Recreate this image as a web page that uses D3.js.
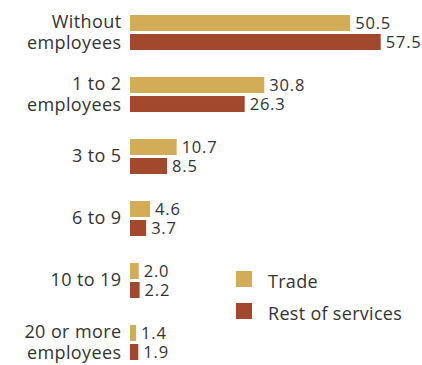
<!DOCTYPE html>
<html>
<head>
<meta charset="utf-8">
<script src="https://cdn.jsdelivr.net/npm/d3@7/dist/d3.min.js"></script>
<style>
  html, body { margin: 0; padding: 0; background: #fff; }
  svg { display: block; }
  text { font-family: "Open Sans", sans-serif; fill: #333; }
</style>
</head>
<body>
<svg id="chart" width="422" height="365"></svg>
<script>
// Firm size classes (label lines) and shares by sector
const categories = [
  ["Without", "employees"],
  ["1 to 2", "employees"],
  ["3 to 5"],
  ["6 to 9"],
  ["10 to 19"],
  ["20 or more", "employees"]
];
const seriesNames = ["Trade", "Rest of services"];
const trade = [50.5, 30.8, 10.7, 4.6, 2.0, 1.4];
const restOfServices = [57.5, 26.3, 8.5, 3.7, 2.2, 1.9];
const valueLabels = {
  "Trade": ["50.5", "30.8", "10.7", "4.6", "2.0", "1.4"],
  "Rest of services": ["57.5", "26.3", "8.5", "3.7", "2.2", "1.9"]
};

const colors = { "Trade": "#D3AC57", "Rest of services": "#A2492D" };
const svg = d3.select("#chart");

const keys = categories.map((c, i) => i);
const y0 = d3.scaleBand().domain(keys).range([15, 360]).paddingInner(0.435).paddingOuter(0);
const y1 = d3.scaleBand().domain(seriesNames).range([0, y0.bandwidth()]).paddingInner(0.158).paddingOuter(0);
const x = d3.scaleLinear().domain([0, 60]).range([130, 391.6]);

const rows = keys.map(i => ({
  i,
  label: categories[i],
  values: [
    { key: "Trade", value: trade[i], text: valueLabels["Trade"][i] },
    { key: "Rest of services", value: restOfServices[i], text: valueLabels["Rest of services"][i] }
  ]
}));

const g = svg.selectAll("g.group").data(rows).join("g")
  .attr("class", "group")
  .attr("transform", d => `translate(0,${y0(d.i)})`);

g.selectAll("rect").data(d => d.values).join("rect")
  .attr("x", x(0))
  .attr("y", d => y1(d.key))
  .attr("width", d => x(d.value) - x(0))
  .attr("height", y1.bandwidth())
  .attr("fill", d => colors[d.key]);

g.selectAll("text.val").data(d => d.values).join("text")
  .attr("class", "val")
  .attr("x", d => x(d.value) + 5)
  .attr("y", d => y1(d.key) + y1.bandwidth() / 2 + 6)
  .attr("font-size", 16.5)
  .attr("letter-spacing", 0.8)
  .text(d => d.text);

// Category labels, right-aligned, vertically centred on the group
const lineGap = 20.5;
g.append("text")
  .attr("class", "cat")
  .attr("text-anchor", "end")
  .attr("font-size", 18)
  .attr("letter-spacing", 0.4)
  .each(function(d) {
    const n = d.label.length;
    const mid = y0.bandwidth() / 2 + 6;
    d3.select(this).selectAll("tspan").data(d.label).join("tspan")
      .attr("x", 121.5)
      .attr("y", (t, k) => mid + (k - (n - 1) / 2) * lineGap)
      .text(t => t);
  });

// Legend
const legend = svg.append("g").attr("transform", "translate(236,271)");
const li = legend.selectAll("g").data(seriesNames).join("g")
  .attr("transform", (d, k) => `translate(0,${k * 32})`);
li.append("rect").attr("width", 16).attr("height", 16).attr("fill", d => colors[d]);
li.append("text").attr("x", 32).attr("y", 16.5).attr("font-size", 18)
  .attr("letter-spacing", 0.3).text(d => d);
</script>
</body>
</html>
